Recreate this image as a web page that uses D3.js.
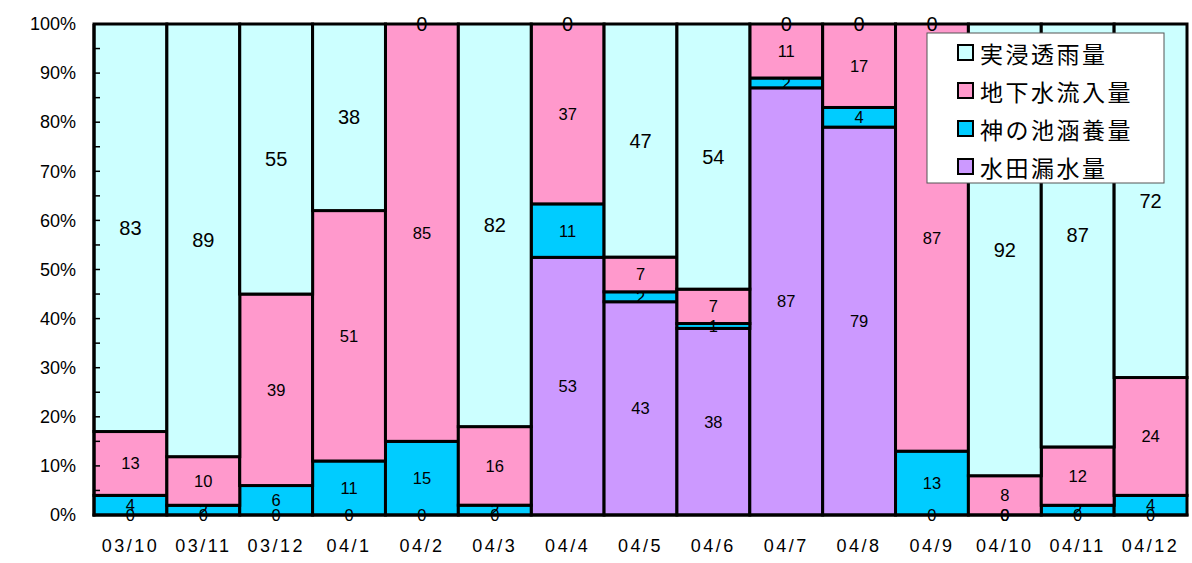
<!DOCTYPE html>
<html><head><meta charset="utf-8">
<script src="https://cdn.jsdelivr.net/npm/d3@7"></script>
<style>
html,body{margin:0;padding:0;background:#fff;}
svg{display:block;}
text{font-family:Arial,"Liberation Sans",sans-serif;fill:#000;}
.jp{font-family:"Noto Sans CJK JP","Noto Sans CJK SC",sans-serif;}
</style></head>
<body>
<svg id="chart" width="1192" height="563"></svg>
<script>
const categories = ["03/10","03/11","03/12","04/1","04/2","04/3","04/4","04/5","04/6","04/7","04/8","04/9","04/10","04/11","04/12"];
const seriesNames = ["水田漏水量","神の池涵養量","地下水流入量","実浸透雨量"];
const paddyLeak   = [0,0,0,0,0,0,53,43,38,87,79,0,0,0,0];
const pondRecharge= [4,2,6,11,15,2,11,2,1,2,4,13,0,2,4];
const groundInflow= [13,10,39,51,85,16,37,7,7,11,17,87,8,12,24];
const rainInfil   = [83,89,55,38,0,82,0,47,54,0,0,0,92,87,72];
const colors = ["#CC99FF","#00CCFF","#FF99CC","#CCFFFF"];
const yTicks = [0,0.1,0.2,0.3,0.4,0.5,0.6,0.7,0.8,0.9,1.0];
const legendOrder = [3,2,1,0];

(function(){
const svg = d3.select("#chart");
const pLeft = 94, pRight = 1187, pTop = 24, pBottom = 515;

const x = d3.scaleBand().domain(categories).range([pLeft, pRight]).padding(0);
const y = d3.scaleLinear().domain([0,1]).range([pBottom, pTop]);

const rows = categories.map((c,i)=>{
  const vals = [paddyLeak[i], pondRecharge[i], groundInflow[i], rainInfil[i]];
  const sum = d3.sum(vals);
  const o = {cat:c};
  seriesNames.forEach((s,k)=>{ o[s] = vals[k]/sum; o["raw"+k]=vals[k]; });
  return o;
});
const stack = d3.stack().keys(seriesNames)(rows);

// bars
const g = svg.append("g");
stack.forEach((layer,k)=>{
  g.append("g").selectAll("rect").data(layer).join("rect")
    .attr("x", d=>x(d.data.cat))
    .attr("width", x.bandwidth())
    .attr("y", d=>y(d[1]))
    .attr("height", d=>Math.max(0, y(d[0])-y(d[1])))
    .attr("fill", colors[k])
    .attr("stroke", "#000")
    .attr("stroke-width", 3);
});

// axes
const yAxis = d3.axisLeft(y).tickValues(yTicks).tickFormat(d3.format(".0%")).tickSize(0).tickPadding(18);
const ay = svg.append("g").attr("transform",`translate(${pLeft},0)`).call(yAxis);
ay.select(".domain").remove();
ay.selectAll("text").attr("font-size",18).attr("font-family","Arial, 'Liberation Sans', sans-serif");
svg.append("g").selectAll("line").data(d3.range(0,1.0001,0.05)).join("line")
  .attr("x1",pLeft).attr("x2",pLeft+6)
  .attr("y1",d=>y(d)).attr("y2",d=>y(d))
  .attr("stroke","#000").attr("stroke-width",1.5);
svg.append("line").attr("x1",pLeft).attr("x2",pLeft).attr("y1",pTop).attr("y2",pBottom+1.5)
  .attr("stroke","#000").attr("stroke-width",3);
svg.append("line").attr("x1",pLeft-1.5).attr("x2",pRight+1.5).attr("y1",pBottom).attr("y2",pBottom)
  .attr("stroke","#000").attr("stroke-width",3);

const xAxis = d3.axisBottom(x).tickSize(0).tickPadding(24);
const ax = svg.append("g").attr("transform",`translate(0,${pBottom})`).call(xAxis);
ax.select(".domain").remove();
ax.selectAll("text").attr("font-size",18).attr("letter-spacing","2.5px").attr("font-family","Arial, 'Liberation Sans', sans-serif");

// labels
stack.forEach((layer,k)=>{
  svg.append("g").selectAll("text").data(layer).join("text")
    .attr("x", d=>x(d.data.cat)+x.bandwidth()/2)
    .attr("y", d=>(y(d[0])+y(d[1]))/2)
    .attr("text-anchor","middle")
    .attr("dominant-baseline","central")
    .attr("font-size", k===3 ? 20 : 16.5)
    .text(d=>d.data["raw"+k]);
});

// legend
const lg = svg.append("g");
lg.append("rect").attr("x",927).attr("y",33).attr("width",237).attr("height",150)
  .attr("fill","#fff").attr("stroke","#555").attr("stroke-width",1);
legendOrder.forEach((k,i)=>{
  const cy = 53 + i*38;
  lg.append("rect").attr("x",958).attr("y",cy-8).attr("width",15).attr("height",15)
    .attr("fill",colors[k]).attr("stroke","#000").attr("stroke-width",2);
  lg.append("text").attr("class","jp").attr("x",980).attr("y",cy)
    .attr("dominant-baseline","central").attr("font-size",23).attr("letter-spacing","2.5px")
    .text(seriesNames[k]);
});
})();
</script>
</body></html>
